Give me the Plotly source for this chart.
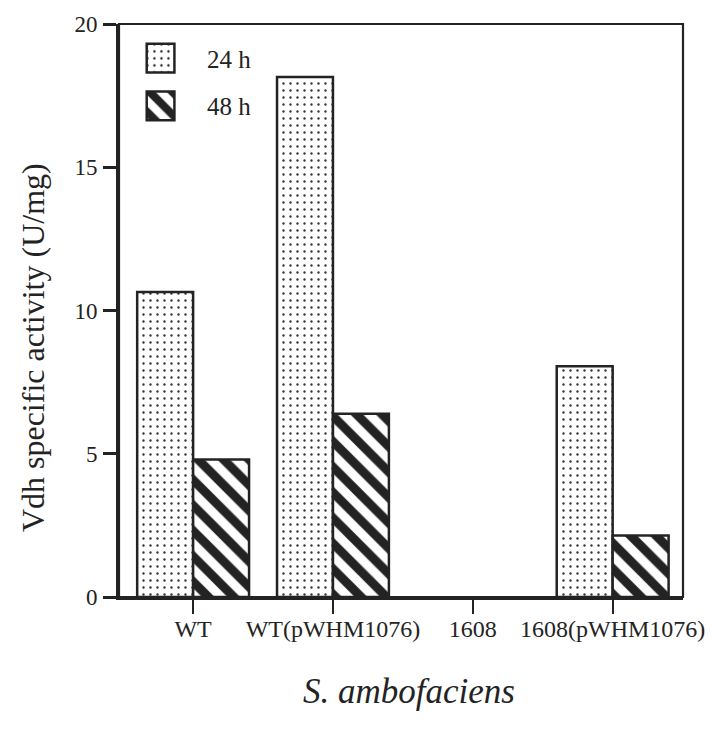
import plotly.graph_objects as go

categories = ["WT", "WT(pWHM1076)", "1608", "1608(pWHM1076)"]
h24 = [10.65, 18.15, None, 8.05]
h48 = [4.8, 6.4, None, 2.15]
series_names = ["24 h", "48 h"]
y_ticks = [0, 5, 10, 15, 20]

FONT = "Liberation Serif, Times New Roman, serif"
INK = "#232323"
pos = list(range(len(categories)))

fig = go.Figure()
fig.add_trace(go.Bar(
    x=pos, y=h24, name=series_names[0], showlegend=False,
    marker=dict(color="white", line=dict(color=INK, width=2.5),
                pattern=dict(shape=".", size=7, solidity=0.09,
                             fgcolor="#333", bgcolor="white", fillmode="replace")),
))
fig.add_trace(go.Bar(
    x=pos, y=h48, name=series_names[1], showlegend=False,
    marker=dict(color="white", line=dict(color=INK, width=2.5),
                pattern=dict(shape="\\", size=18, solidity=0.5,
                             fgcolor=INK, bgcolor="white", fillmode="replace")),
))

# legend swatches on a small helper axis
fig.add_trace(go.Bar(
    x=[0, 0], y=[29, 29], base=[48, 0], width=[1, 1], showlegend=False,
    xaxis="x2", yaxis="y2", hoverinfo="skip",
    marker=dict(color="white", line=dict(color=INK, width=2.5),
                pattern=dict(shape=[".", "\\"], size=[7, 16], solidity=[0.09, 0.5],
                             fgcolor=INK, bgcolor="white", fillmode="replace")),
))

W, H = 717, 737
L, R, T, B = 119, 28, 19, 140
pw, ph = W - L - R, H - T - B

def px(x):
    return (x - L) / pw

def py(y):
    return (H - B - y) / ph

fig.update_layout(
    width=W, height=H,
    margin=dict(l=L, r=R, t=T, b=B),
    paper_bgcolor="white", plot_bgcolor="white",
    barmode="group", bargap=0.2, bargroupgap=0,
    font=dict(family=FONT, color=INK, size=22),
    xaxis=dict(range=[-0.53, 3.503], tickmode="array", tickvals=pos, ticktext=categories,
               showline=True, linecolor=INK, linewidth=3, ticks="outside", ticklen=14,
               tickwidth=2, tickcolor=INK, showgrid=False, zeroline=False,
               ticklabelstandoff=-6,
               tickfont=dict(size=24, family=FONT, color=INK), fixedrange=True),
    yaxis=dict(range=[0, 20], tickmode="array", tickvals=y_ticks,
               showline=True, linecolor=INK, linewidth=3, ticks="outside", ticklen=13,
               tickwidth=2.5, tickcolor=INK, showgrid=False, zeroline=False,
               ticklabelstandoff=1,
               tickfont=dict(size=23, family=FONT, color=INK), fixedrange=True),
    xaxis2=dict(domain=[px(161 - 16.8), px(161 + 16.8)], range=[-0.6, 0.6], anchor="y2",
                visible=False, fixedrange=True),
    yaxis2=dict(domain=[py(119), py(36)], range=[-3, 80], anchor="x2",
                visible=False, fixedrange=True),
    shapes=[dict(type="rect", xref="paper", yref="paper", x0=0, x1=1, y0=0, y1=1,
                 line=dict(color=INK, width=2.2), layer="above")],
    annotations=[
        dict(text=series_names[0], xref="paper", yref="paper", x=px(206), y=py(55),
             xanchor="left", yanchor="middle", showarrow=False,
             font=dict(size=25, family=FONT, color=INK)),
        dict(text=series_names[1], xref="paper", yref="paper", x=px(206), y=py(102),
             xanchor="left", yanchor="middle", showarrow=False,
             font=dict(size=25, family=FONT, color=INK)),
        dict(text="Vdh specific activity (U/mg)", xref="paper", yref="paper",
             x=px(32), y=py(345), textangle=-90, xanchor="center", yanchor="middle",
             showarrow=False, font=dict(size=32, family=FONT, color=INK)),
        dict(text="<i>S. ambofaciens</i>", xref="paper", yref="paper",
             x=px(412), y=py(692), xanchor="center", yanchor="middle",
             showarrow=False, font=dict(size=35, family=FONT, color=INK)),
    ],
)

fig.write_html("out.html", config={"displayModeBar": False},
               post_script="document.body.style.margin='0';")
